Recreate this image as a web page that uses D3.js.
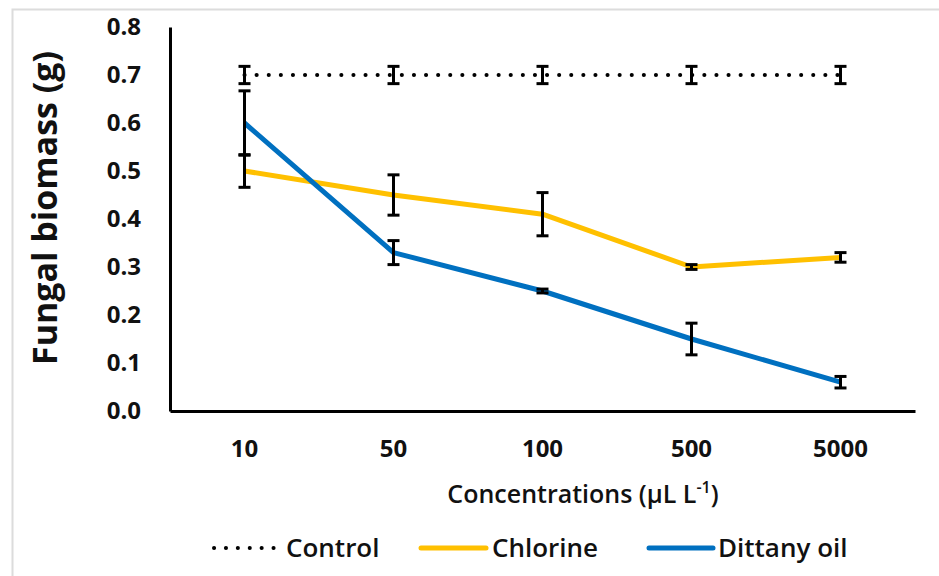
<!DOCTYPE html>
<html><head><meta charset="utf-8">
<script src="https://cdn.jsdelivr.net/npm/d3@7/dist/d3.min.js"></script>
<style>body{margin:0;background:#fff}svg{display:block}</style>
</head><body>
<svg id="c" width="939" height="576"></svg>
<script>
const categories = ["10","50","100","500","5000"];
const control = [0.70,0.70,0.70,0.70,0.70];
const controlErr = [0.018,0.018,0.018,0.018,0.018];
const chlorine = [0.50,0.45,0.41,0.30,0.32];
const chlorineErr = [0.034,0.042,0.045,0.005,0.01];
const dittany = [0.60,0.33,0.25,0.15,0.06];
const dittanyErr = [0.067,0.025,0.004,0.033,0.012];
const yTicks = [0,0.1,0.2,0.3,0.4,0.5,0.6,0.7,0.8];
const seriesNames = ["Control","Chlorine","Dittany oil"];

const svg = d3.select("#c");
const font = "'Open Sans', 'Noto Sans', sans-serif";
// frame
svg.append("path").attr("d","M12.5,576 V9.5 H939").attr("fill","none").attr("stroke","#dcdcdc").attr("stroke-width",2);

const x = d3.scaleBand().domain(categories).range([170,915]);
const y = d3.scaleLinear().domain([0,0.8]).range([411,27]);

// axes
const gy = svg.append("g").attr("transform","translate(170,0)")
  .call(d3.axisLeft(y).tickValues(yTicks).tickSize(0).tickPadding(29).tickFormat(d3.format(".1f")));
gy.select(".domain").attr("stroke","#000").attr("stroke-width",3);
gy.selectAll("text").attr("font-family",font).attr("font-weight","bold").attr("font-size",24).attr("fill","#111");

const gx = svg.append("g").attr("transform","translate(0,411)")
  .call(d3.axisBottom(x).tickSize(0).tickPadding(29));
gx.select(".domain").attr("stroke","#000").attr("stroke-width",3);
gx.selectAll("text").attr("font-family",font).attr("font-weight","bold").attr("font-size",24).attr("fill","#111");

// axis titles
svg.append("text").attr("transform","translate(57,208) rotate(-90)").attr("text-anchor","middle")
  .attr("font-family",font).attr("font-weight","bold").attr("font-size",34).attr("fill","#111").text("Fungal biomass (g)");
const xt = svg.append("text").attr("x",583).attr("y",503).attr("text-anchor","middle")
  .attr("font-family",font).attr("font-weight","600").attr("font-size",25).attr("fill","#111");
xt.append("tspan").text("Concentrations (µL L");
xt.append("tspan").attr("font-size",16).attr("dy",-10).text("-1");
xt.append("tspan").attr("dy",10).text(")");

const cx = d => x(d) + x.bandwidth()/2;
const line = vals => d3.line().x((d,i)=>cx(categories[i])).y(d=>y(d))(vals);

function errBars(vals, errs){
  const g = svg.append("g");
  vals.forEach((v,i)=>{
    const xc = cx(categories[i]);
    g.append("line").attr("x1",xc).attr("x2",xc).attr("y1",y(v+errs[i])).attr("y2",y(v-errs[i])).attr("stroke","#000").attr("stroke-width",3);
    [v+errs[i], v-errs[i]].forEach(e=>{
      g.append("line").attr("x1",xc-6).attr("x2",xc+6).attr("y1",y(e)).attr("y2",y(e)).attr("stroke","#000").attr("stroke-width",3);
    });
  });
}

svg.append("path").attr("d",line(chlorine)).attr("fill","none").attr("stroke","#FFC000").attr("stroke-width",5).attr("stroke-linejoin","round");
svg.append("path").attr("d",line(dittany)).attr("fill","none").attr("stroke","#0070C0").attr("stroke-width",5).attr("stroke-linejoin","round");
svg.append("path").attr("d",line(control)).attr("fill","none").attr("stroke","#000").attr("stroke-width",4)
  .attr("stroke-linecap","round").attr("stroke-dasharray","0.1 12");
errBars(control, controlErr);
errBars(chlorine, chlorineErr);
errBars(dittany, dittanyErr);

// legend
const leg = [
  {name:seriesNames[0], x1:214, x2:280, tx:286, color:"#000", dash:true},
  {name:seriesNames[1], x1:421, x2:486, tx:492, color:"#FFC000"},
  {name:seriesNames[2], x1:649, x2:713, tx:718, color:"#0070C0"}
];
const ly = 548;
leg.forEach(l=>{
  const p = svg.append("line").attr("x1",l.x1).attr("x2",l.x2).attr("y1",ly).attr("y2",ly).attr("stroke",l.color);
  if(l.dash) p.attr("stroke-width",4).attr("stroke-linecap","round").attr("stroke-dasharray","0.1 11.8");
  else p.attr("stroke-width",5).attr("stroke-linecap","round");
  svg.append("text").attr("x",l.tx).attr("y",ly+9).attr("font-family",font).attr("font-weight","600")
    .attr("font-size",26).attr("fill","#111").text(l.name);
});
</script>
</body></html>
